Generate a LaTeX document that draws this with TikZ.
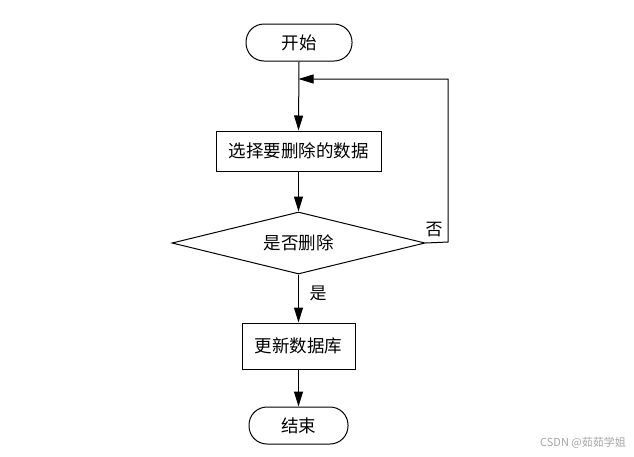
\documentclass[tikz,border=0pt]{standalone}
\usepackage{fontspec}
\setmainfont{Noto Sans CJK SC}
\usetikzlibrary{shapes.geometric,arrows.meta}
\begin{document}
\begin{tikzpicture}[x=1pt,y=-1pt,
  base/.style={draw=black,line width=1pt,inner sep=0pt,font=\fontsize{17.5}{20}\selectfont},
  term/.style={base,rectangle,rounded corners=18pt},
  proc/.style={base,rectangle},
  deci/.style={base,diamond,aspect=4},
  arr/.style={line width=1pt,-{Triangle[length=15pt,width=9pt]}},
  lbl/.style={inner sep=0pt,font=\fontsize{17}{20}\selectfont}]
\useasboundingbox[fill=white] (0,0) rectangle (634,456);
\node[term,minimum width=106pt,minimum height=37pt] (start) at (299,42.5) {开始};
\node[proc,minimum width=165pt,minimum height=40pt] (sel) at (298.5,151) {选择要删除的数据};
\node[deci,minimum width=253pt,minimum height=62pt] (dec) at (298.5,243) {是否删除};
\node[proc,minimum width=113pt,minimum height=46pt] (upd) at (298.5,346) {更新数据库};
\node[term,minimum width=99pt,minimum height=37pt] (end) at (298.5,425.5) {结束};
\coordinate (join) at (298.5,79);
\coordinate (rc) at (448,242);
\draw[arr] (start.south) -- (sel.north);
\draw[arr] (sel.south) -- (dec.north);
\draw[arr] (dec.south) -- (upd.north);
\draw[arr] (upd.south) -- (end.south |- end.north);
\draw[arr] (dec.east) -- (rc) |- (join);
\node[lbl] (no) at (434,230) {否};
\node[lbl] (yes) at (318,293) {是};
\node[inner sep=0pt,text=black!35,font=\fontsize{11}{13}\selectfont] (wm) at (583,443) {CSDN @茹茹学姐};
\end{tikzpicture}
\end{document}
